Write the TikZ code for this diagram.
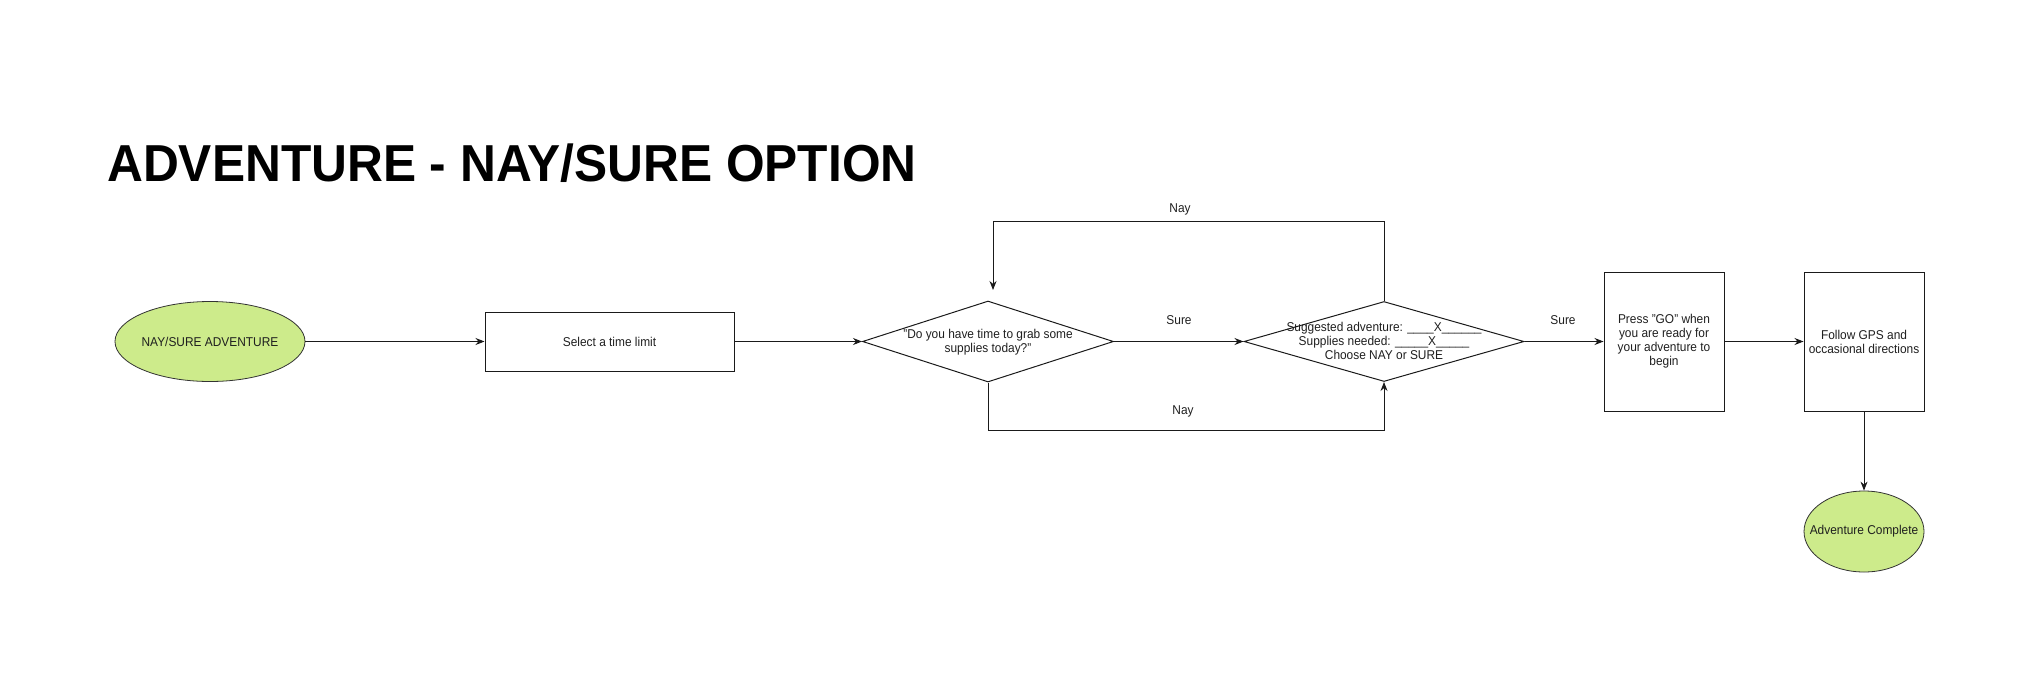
\documentclass[tikz,border=0pt]{standalone}
\usepackage{fontspec}
\setmainfont{Liberation Sans}[FakeStretch=0.93]
\newfontfamily\titlefont{Liberation Sans}[FakeStretch=0.955]
\usetikzlibrary{shapes.geometric,arrows.meta}
\definecolor{lgreen}{HTML}{CDEB8B}
\definecolor{edgec}{HTML}{1A1A1A}
\begin{document}
\begin{tikzpicture}[x=1pt,y=-1pt,
  every node/.style={font=\fontsize{12.8}{14}\selectfont, text=black!88},
  every label/.style={inner sep=0pt, align=center},
  box/.style={draw=edgec, line width=1pt, rectangle, inner sep=0pt, align=center},
  dia/.style={draw=edgec, diamond, inner sep=0pt, line width=1pt},
  term/.style={draw=black!80, ellipse, fill=lgreen, line width=0.8pt, inner sep=0pt},
  arr/.style={draw=edgec, line width=1pt, -{Stealth[length=9pt,width=7pt]}},
  lbl/.style={inner sep=0pt}]
\useasboundingbox (0,0) rectangle (2025,672);

\node[anchor=base west, inner sep=0pt, font=\titlefont\fontsize{52}{60}\selectfont\bfseries, text=black] (title) at (107,181) {ADVENTURE - NAY/SURE OPTION};

\node[term, minimum width=190pt, minimum height=80pt, label={center:NAY/SURE ADVENTURE}] (start) at (210,341.5) {};
\node[box, minimum width=249pt, minimum height=59pt] (sel) at (609.5,341.5) {Select a time limit};
\node[dia, minimum width=251pt, minimum height=81pt,
  label={[yshift=-1pt]center:{"Do you have time to grab some\\supplies today?"}}] (d1) at (988,341.5) {};
\node[dia, minimum width=280pt, minimum height=80pt,
  label={[yshift=1pt]center:{Suggested adventure: \_\_\_\_X\_\_\_\_\_\_\\Supplies needed: \_\_\_\_\_X\_\_\_\_\_\\Choose NAY or SURE}}] (d2) at (1384,341.5) {};
\node[box, minimum width=120pt, minimum height=139pt] (go) at (1664,341.5) {Press "GO" when\\you are ready for\\your adventure to\\begin};
\node[box, minimum width=120pt, minimum height=139pt] (gps) at (1864,341.5) {Follow GPS and\\occasional directions};
\node[term, minimum width=120pt, minimum height=81pt, label={center:Adventure Complete}] (done) at (1864,531.5) {};

\coordinate (d1in) at (993,290);

\draw[arr] (start) -- (sel);
\draw[arr] (sel) -- (d1);
\draw[arr] (d1) -- (d2);
\draw[arr] (d2) -- (go);
\draw[arr] (go) -- (gps);
\draw[arr] (gps) -- (done);
\draw[arr] (d2.north) -- ++(0,-80) -| (d1in);
\draw[arr] (d1.south) -- ++(0,48) -| (d2.south);

\node[lbl] (nay1) at (1180,209) {Nay};
\node[lbl] (sure1) at (1179,320) {Sure};
\node[lbl] (sure2) at (1563,320) {Sure};
\node[lbl] (nay2) at (1183,411) {Nay};
\end{tikzpicture}
\end{document}
